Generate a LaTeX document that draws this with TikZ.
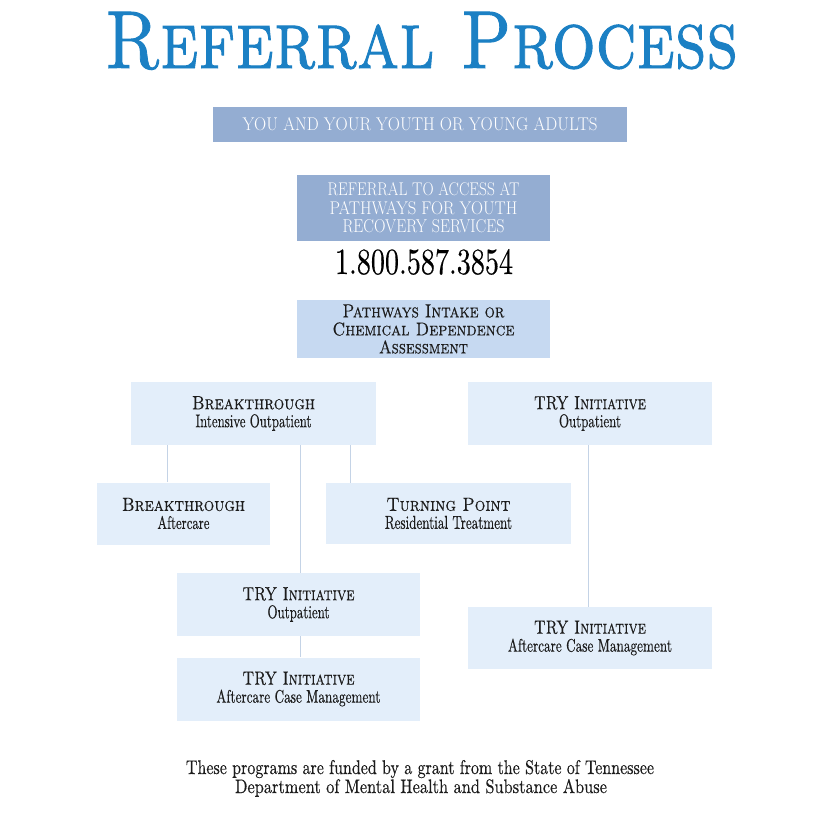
\documentclass[tikz,border=0pt]{standalone}
\usepackage{graphicx}
\usepackage{fontspec}
\newfontfamily\heavy{lmroman10-regular.otf}[SmallCapsFont=lmromancaps10-regular.otf, FakeBold=1.2, SmallCapsFeatures={FakeBold=1.2}]
\newfontfamily\firm{lmroman10-regular.otf}[SmallCapsFont=lmromancaps10-regular.otf, FakeBold=0.4, SmallCapsFeatures={FakeBold=0.4}]
\definecolor{titleblue}{HTML}{1B80C4}
\definecolor{deepbox}{HTML}{94ADD2}
\definecolor{midbox}{HTML}{C6D9F1}
\definecolor{palebox}{HTML}{E3EEFA}
\definecolor{linkblue}{HTML}{C4D3E6}
\definecolor{ink}{HTML}{1C1C1C}
% squeeze one line of text to a given width and cap height (pt)
\newcommand\fit[3]{\resizebox{#1pt}{#2pt}{#3}}
\tikzset{
  box/.style={fill=palebox, text=ink, inner sep=0pt, align=center, font=\firm\fontsize{19}{18}\selectfont},
  deep/.style={box, fill=deepbox, text=white, font=\rmfamily\fontsize{19}{18.5}\selectfont},
  mid/.style={box, fill=midbox},
  plain/.style={inner sep=0pt, anchor=base, font=\firm},
  link/.style={draw=linkblue, line width=0.9pt},
}
\begin{document}
\begin{tikzpicture}[x=1pt,y=-1pt]
% page, 840 x 814 px, y down
\fill[white] (0,0) rectangle (840,814);
\useasboundingbox (0,0) rectangle (840,814);
% heading
\node[plain, text=titleblue, font=\heavy] (title) at (421.5,68) {\fit{633}{56}{\textsc{Referral Process}}};
% top of the chain
\node[deep, minimum width=414pt, minimum height=35pt] (you) at (420,124.5)
  {\fit{355}{13}{YOU AND YOUR YOUTH OR YOUNG ADULTS}};
\node[deep, minimum width=253pt, minimum height=66pt] (refer) at (423.5,208)
  {\fit{192}{13}{REFERRAL TO ACCESS AT}\\ \fit{188}{13}{PATHWAYS FOR YOUTH}\\ \fit{162}{13}{RECOVERY SERVICES}};
\node[plain, text=black] (phone) at (424,274) {\fit{178}{25}{1.800.587.3854}};
\node[mid, minimum width=253pt, minimum height=58pt] (intake) at (423.5,329)
  {\fit{162}{13}{\textsc{Pathways Intake or}}\\ \fit{182}{13}{\textsc{Chemical Dependence}}\\ \fit{89}{13}{\textsc{Assessment}}};
% programmes
\node[box, minimum width=245pt, minimum height=63pt] (bio) at (253.5,413.5)
  {\fit{123}{13}{\textsc{Breakthrough}}\\ \fit{116}{13}{Intensive Outpatient}};
\node[box, minimum width=244pt, minimum height=63pt] (tyo) at (590,413.5)
  {\fit{112}{13}{\textsc{TRY Initiative}}\\ \fit{62}{13}{Outpatient}};
\node[box, minimum width=173pt, minimum height=62pt] (bac) at (183.5,513.5)
  {\fit{123}{13}{\textsc{Breakthrough}}\\ \fit{52}{13}{Aftercare}};
\node[box, minimum width=245pt, minimum height=61pt] (tp) at (448.5,513.5)
  {\fit{124}{13}{\textsc{Turning Point}}\\ \fit{127}{13}{Residential Treatment}};
\node[box, minimum width=243pt, minimum height=63pt] (tro) at (298.5,604.5)
  {\fit{112}{13}{\textsc{TRY Initiative}}\\ \fit{62}{13}{Outpatient}};
\node[box, minimum width=243pt, minimum height=63pt] (tac) at (298.5,689)
  {\fit{112}{13}{\textsc{TRY Initiative}}\\ \fit{164}{13}{Aftercare Case Management}};
\node[box, minimum width=244pt, minimum height=62pt] (tac2) at (590,638)
  {\fit{112}{13}{\textsc{TRY Initiative}}\\ \fit{164}{13}{Aftercare Case Management}};
% faint links
\coordinate (bacin) at ([xshift=-16pt]bac.north);
\coordinate (tpin) at ([xshift=25pt]tp.north west);
\coordinate (troin) at ([xshift=2pt]tro.north);
\coordinate (troout) at ([xshift=2pt]tro.south);
\coordinate (tac2in) at ([xshift=-2pt]tac2.north);
\draw[link] (bio.south -| bacin) -- (bacin);
\draw[link] (bio.south -| troin) -- (troin);
\draw[link] (bio.south -| tpin) -- (tpin);
\draw[link] (troout) -- (troout |- tac.north);
\draw[link] (tyo.south -| tac2in) -- (tac2in);
% funding note
\node[plain, text=ink] (fund) at (420,774) {\fit{468}{14}{These programs are funded by a grant from the State of Tennessee}};
\node[plain, text=ink] (dept) at (421,793) {\fit{372}{14}{Department of Mental Health and Substance Abuse}};
\end{tikzpicture}
\end{document}
